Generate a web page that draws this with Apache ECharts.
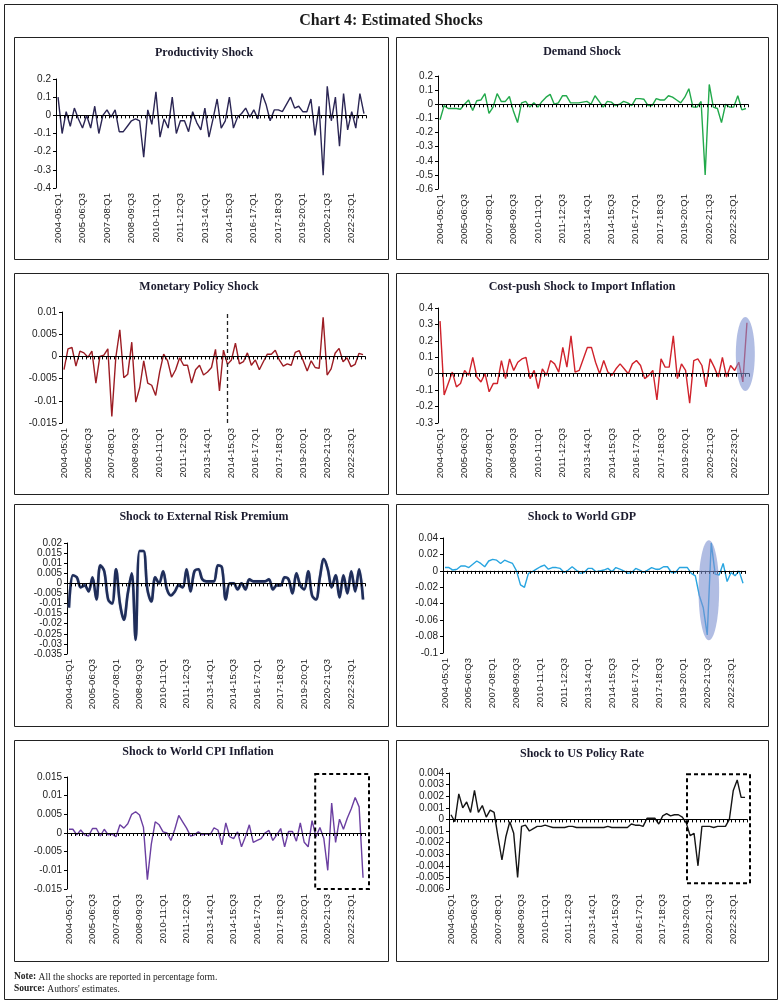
<!DOCTYPE html>
<html><head><meta charset="utf-8">
<script src="https://cdn.jsdelivr.net/npm/echarts/dist/echarts.min.js"></script>
<style>html,body{margin:0;padding:0;background:#fff}#c{width:782px;height:1005px}</style>
</head><body><div id="c"></div>
<script>
// ---- categories: 2004-05:Q1 ... 2022-23:Q4 ----
const fiscalYears = ['2004-05','2005-06','2006-07','2007-08','2008-09','2009-10','2010-11','2011-12','2012-13','2013-14','2014-15','2015-16','2016-17','2017-18','2018-19','2019-20','2020-21','2021-22','2022-23'];
const quarters = ['Q1','Q2','Q3','Q4'];
const categories = [];
fiscalYears.forEach(y => quarters.forEach(q => categories.push(y + ':' + q)));

const panelTitles = ['Productivity Shock','Demand Shock','Monetary Policy Shock','Cost-push Shock to Import Inflation','Shock to External Risk Premium','Shock to World GDP','Shock to World CPI Inflation','Shock to US Policy Rate'];

const productivity = [0.10,-0.10,0.02,-0.06,0.04,-0.02,-0.07,0.00,-0.07,0.05,
 -0.10,0.00,0.03,-0.01,0.03,-0.09,-0.09,-0.06,-0.03,-0.02,
 -0.03,-0.23,0.03,-0.05,0.13,-0.12,-0.02,-0.07,0.10,-0.10,
 -0.03,-0.03,-0.09,0.02,-0.04,-0.08,0.04,-0.12,-0.02,0.09,
 -0.07,-0.03,0.10,-0.07,-0.01,0.01,0.04,-0.01,0.03,-0.02,
 0.12,0.06,-0.03,0.03,0.03,0.02,0.06,0.10,0.04,0.05,
 0.02,0.02,0.09,-0.11,0.05,-0.33,0.16,-0.03,0.10,-0.17,
 0.12,-0.08,0.02,-0.07,0.12,0.01];

const demand = [-0.11,-0.01,-0.03,-0.03,-0.03,-0.035,0.00,0.03,-0.045,0.025,
 0.03,0.075,-0.065,-0.02,0.075,0.02,0.02,0.055,-0.05,-0.13,
 0.01,0.02,-0.02,0.01,-0.02,0.02,0.05,0.07,0.00,0.01,
 0.06,0.06,0.01,0.01,0.01,0.015,0.02,0.00,0.06,0.02,
 -0.02,0.02,0.015,-0.01,0.00,0.02,0.01,-0.01,0.04,0.04,
 0.035,-0.01,-0.01,0.04,0.03,0.03,0.06,0.05,0.03,0.01,
 0.05,0.11,-0.02,-0.02,0.02,-0.50,0.14,-0.02,-0.03,-0.13,
 0.00,-0.02,-0.02,0.06,-0.04,-0.03];

const monetary = [-0.003,0.0017,0.002,-0.0022,0.0012,0.0008,-0.0002,0.0012,-0.006,0.0,
 0.0003,0.0017,-0.0135,-0.0002,0.006,-0.0048,-0.004,0.0032,-0.0103,-0.007,
 -0.001,-0.006,-0.0065,-0.0088,-0.0035,0.0005,-0.001,-0.0047,-0.003,-0.0003,
 -0.002,-0.002,-0.006,-0.003,-0.002,-0.0042,-0.0035,-0.0025,0.0016,-0.0078,
 0.0014,-0.0018,-0.0008,0.003,-0.0017,-0.0012,0.0008,-0.002,-0.0008,-0.003,
 -0.0012,0.0005,0.0005,0.0014,-0.0008,-0.0022,-0.0017,-0.002,0.0009,0.0013,
 -0.001,-0.0033,-0.001,-0.0025,-0.0027,0.0088,-0.0042,-0.0028,0.0007,0.0018,
 -0.0012,-0.0003,-0.0023,-0.0018,0.0007,0.0004];

const costPush = [0.32,-0.13,-0.06,0.01,-0.08,-0.06,0.02,-0.01,0.10,-0.02,
 -0.05,0.00,-0.11,-0.06,-0.06,0.08,-0.03,0.09,0.02,0.07,
 0.09,0.10,-0.03,0.02,-0.09,0.03,-0.01,0.08,0.06,0.01,
 0.16,0.04,0.23,0.01,0.02,0.09,0.16,0.16,0.07,0.00,
 0.08,0.01,-0.01,0.03,0.06,0.03,0.00,0.06,0.08,0.05,
 -0.03,-0.01,0.02,-0.16,0.09,0.04,0.04,0.23,-0.03,0.06,
 0.02,-0.18,0.08,0.09,0.05,-0.08,0.09,0.04,-0.02,0.10,
 -0.02,0.05,0.02,0.07,-0.05,0.31];

const riskPremium = [-0.012,0.004,0.003,-0.002,-0.001,-0.004,0.003,-0.008,0.009,0.006,
 -0.008,-0.010,0.007,-0.010,-0.018,-0.005,0.005,-0.028,0.016,0.016,
 -0.003,-0.009,0.003,0.0,0.006,-0.003,-0.006,-0.004,-0.001,-0.002,
 0.007,-0.004,0.006,0.007,0.002,0.001,0.001,0.001,0.009,0.008,
 -0.008,0.0,0.0,-0.003,0.0,-0.003,0.002,0.001,0.001,0.001,
 0.001,0.002,-0.003,-0.001,-0.001,0.003,0.002,-0.005,0.005,-0.001,
 -0.003,0.006,-0.006,-0.008,0.003,0.012,0.007,-0.002,0.004,-0.007,
 0.004,-0.005,0.006,-0.004,0.007,-0.008];

const worldGDP = [0.004,0.004,0.001,0.002,0.006,0.006,0.004,0.008,0.012,0.009,
 0.005,0.012,0.014,0.013,0.009,0.013,0.011,0.009,0.000,-0.017,
 -0.020,-0.003,-0.001,0.002,0.005,0.007,0.002,0.004,0.004,0.003,
 -0.002,0.001,0.005,0.001,-0.003,-0.002,0.003,0.003,-0.001,0.000,
 0.001,0.003,-0.001,0.004,0.002,0.000,-0.003,-0.002,0.003,0.001,
 -0.002,0.001,0.004,0.002,0.002,0.005,0.005,-0.002,-0.002,0.004,
 0.004,0.004,-0.003,-0.006,-0.030,-0.045,-0.078,0.034,-0.004,-0.005,
 0.009,-0.013,-0.002,-0.006,0.000,-0.015];

const worldCPI = [0.001,0.001,-0.0005,0.0008,-0.0005,-0.0008,0.0012,0.0012,-0.0008,0.001,
 -0.0005,-0.0003,-0.001,0.0022,0.0013,0.0025,0.005,0.0057,0.0048,0.0015,
 -0.0125,-0.003,0.003,0.0022,0.0003,0.0,-0.002,0.001,0.0047,0.003,
 0.0013,-0.0008,-0.0005,0.0003,-0.0005,-0.0002,-0.0005,0.0014,0.0008,-0.0032,
 0.0027,-0.001,-0.0015,0.0003,-0.0037,-0.001,0.0022,-0.0025,-0.002,-0.0015,
 0.0,0.0007,-0.002,-0.0005,0.0012,-0.0037,0.0004,0.0004,-0.0022,0.0027,
 -0.0025,-0.0037,0.0033,-0.001,0.0015,-0.0015,-0.01,0.008,-0.0025,0.0037,
 0.001,0.004,0.0065,0.0095,0.007,-0.012];

const usPolicy = [0.0004,-0.0002,0.0022,0.001,0.0015,0.0006,0.0025,0.0006,0.0012,0.0002,
 0.0008,0.0006,-0.0015,-0.0035,-0.0015,-0.0002,-0.0012,-0.005,-0.0006,-0.0005,
 -0.001,-0.0008,-0.0006,-0.0006,-0.0005,-0.0006,-0.0007,-0.0007,-0.0007,-0.0007,
 -0.0006,-0.0006,-0.0007,-0.0007,-0.0007,-0.0007,-0.0007,-0.0007,-0.0007,-0.0007,
 -0.0006,-0.0007,-0.0007,-0.0007,-0.0007,-0.0007,-0.0004,-0.0005,-0.0005,-0.0006,
 0.0001,0.0001,0.0001,-0.0004,0.0003,0.0005,0.0003,0.0004,0.0004,0.0002,
 -0.0003,-0.0014,-0.0012,-0.004,-0.0006,-0.0006,-0.0006,-0.0007,-0.0006,-0.0006,
 -0.0006,0.0000,0.0025,0.0034,0.0019,0.0019];

// y-axis ranges [min, max, interval]
const yRanges = [[-0.4,0.2,0.1],[-0.6,0.2,0.1],[-0.015,0.01,0.005],[-0.3,0.4,0.1],[-0.035,0.02,0.005],[-0.1,0.04,0.02],[-0.015,0.015,0.005],[-0.006,0.004,0.001]];

// ---- layout / style ----
const seriesData = [productivity, demand, monetary, costPush, riskPremium, worldGDP, worldCPI, usPolicy];
const colors = ['#2b2654','#22a94b','#9c1c23','#d0222b','#1f2d59','#28a5e0','#6b3fa1','#151515'];
const widths = [1.4,1.4,1.4,1.4,2.6,1.4,1.4,1.4];
const grids = [[56,79,310,109],[438,76,310,113],[62,312,303,111],[438,308,311,115],[67,543,298,111],[443,538,302,115],[67,777,298,112],[449,773,298,116]];
const boxes = [[14,37,374,222],[396,37,372,222],[14,273,374,221],[396,273,372,221],[14,504,374,222],[396,504,372,222],[14,740,374,221],[396,740,372,221]];
const titlePos = [[204,53],[582,52],[199,287],[582,287],[204,517],[582,517],[198,752],[582,754]];

const sans = '"Liberation Sans", Arial, sans-serif';
const serif = '"Liberation Serif", "Times New Roman", serif';
const fmt = v => String(Math.round(v * 1e6) / 1e6);

const option = {animation:false, backgroundColor:'#fff', grid:[], xAxis:[], yAxis:[], series:[]};
grids.forEach((g, k) => {
  option.grid.push({left:g[0], top:g[1], width:g[2], height:g[3], containLabel:false});
  option.xAxis.push({type:'category', gridIndex:k, data:categories, position:'bottom', boundaryGap:true,
    axisLine:{show:true, onZero:true, lineStyle:{color:'#000', width:1.2}},
    axisTick:{show:true, interval:0, length:3, lineStyle:{color:'#000', width:1}},
    axisLabel:{show:false}, splitLine:{show:false}, z:5});
  option.xAxis.push({type:'category', gridIndex:k, data:categories, position:'bottom', boundaryGap:true,
    axisLine:{show:false, onZero:false}, axisTick:{show:false},
    axisLabel:{show:true, interval:5, rotate:90, fontSize:9.5, color:'#222', margin:5, fontFamily:sans},
    splitLine:{show:false}});
  const r = yRanges[k];
  option.yAxis.push({type:'value', gridIndex:k, min:r[0], max:r[1], interval:r[2],
    axisLine:{show:true, lineStyle:{color:'#000', width:1}},
    axisTick:{show:true, length:3, lineStyle:{color:'#000'}},
    axisLabel:{fontSize:10, color:'#222', margin:5, fontFamily:sans, formatter:fmt},
    splitLine:{show:false}});
  const s = {type:'line', xAxisIndex:2*k, yAxisIndex:k, data:seriesData[k], symbol:'none',
    lineStyle:{color:colors[k], width:widths[k]}, z:3};
  if (k === 4) { s.smooth = 0.35; s.lineStyle.shadowColor = 'rgba(140,155,190,0.8)'; s.lineStyle.shadowBlur = 1; }
  if (k === 2) {
    s.markLine = {silent:true, symbol:['none','none'], label:{show:false},
      lineStyle:{color:'#222', type:[4,3], width:1.3}, data:[{xAxis:41}]};
  }
  option.series.push(s);
});

const chart = echarts.init(document.getElementById('c'));
chart.setOption(option);

const px = (g, i, v) => chart.convertToPixel({xAxisIndex:2*g, yAxisIndex:g}, [i, v]);
const pxf = (g, fi, v) => { const i0 = Math.floor(fi), t = fi - i0; const a = px(g, i0, v), b = px(g, i0 + 1, v); return [a[0] + (b[0] - a[0]) * t, a[1]]; };

const graphics = [];
graphics.push({type:'rect', shape:{x:4.5, y:4.5, width:773, height:995}, style:{fill:'none', stroke:'#222', lineWidth:1}, z:0});
boxes.forEach(b => graphics.push({type:'rect', shape:{x:b[0]+0.5, y:b[1]+0.5, width:b[2], height:b[3]}, style:{fill:'none', stroke:'#222', lineWidth:1}, z:0}));
graphics.push({type:'text', style:{x:391, y:21, text:'Chart 4: Estimated Shocks', font:'bold 16px ' + serif, fill:'#1a1a1a', textAlign:'center', textVerticalAlign:'middle', align:'center', verticalAlign:'middle'}});
panelTitles.forEach((t, k) => graphics.push({type:'text', style:{x:titlePos[k][0], y:titlePos[k][1], text:t, font:'bold 12px ' + serif, fill:'#1b1b2e', textAlign:'center', textVerticalAlign:'middle', align:'center', verticalAlign:'middle'}}));
graphics.push({type:'text', style:{x:14, y:977, text:'{b|Note:} All the shocks are reported in percentage form.', font:'9.5px ' + serif, fill:'#222', textVerticalAlign:'middle', verticalAlign:'middle', rich:{b:{fontWeight:'bold', fontSize:9.5, fontFamily:serif}}}});
graphics.push({type:'text', style:{x:14, y:989, text:'{b|Source:} Authors\' estimates.', font:'9.5px ' + serif, fill:'#222', textVerticalAlign:'middle', verticalAlign:'middle', rich:{b:{fontWeight:'bold', fontSize:9.5, fontFamily:serif}}}});

// highlight ellipses
const e1 = pxf(3, 74.6, 0.12);
graphics.push({type:'ellipse', shape:{cx:e1[0], cy:e1[1], rx:9.5, ry:37}, style:{fill:'rgba(125,145,208,0.6)'}, z:10});
const e2 = pxf(5, 66.4, -0.0237);
graphics.push({type:'ellipse', shape:{cx:e2[0], cy:e2[1], rx:10.3, ry:50}, style:{fill:'rgba(125,145,208,0.6)'}, z:10});

// dashed boxes
const band6 = px(6, 1, 0)[0] - px(6, 0, 0)[0];
const l6 = pxf(6, 62.8, 0)[0], r6 = px(6, 75, 0)[0] + band6 / 2 + 4;
const t6 = px(6, 0, 0.015)[1] - 3, b6 = px(6, 0, -0.015)[1];
graphics.push({type:'rect', shape:{x:l6, y:t6, width:r6 - l6, height:b6 - t6}, style:{fill:'none', stroke:'#000', lineWidth:2, lineDash:[4,3]}, z:10});
const band7 = px(7, 1, 0)[0] - px(7, 0, 0)[0];
const l7 = pxf(7, 60.2, 0)[0], r7 = px(7, 75, 0)[0] + band7 / 2 + 3;
const t7 = px(7, 0, 0.0039)[1], b7 = px(7, 0, -0.0055)[1];
graphics.push({type:'rect', shape:{x:l7, y:t7, width:r7 - l7, height:b7 - t7}, style:{fill:'none', stroke:'#000', lineWidth:2, lineDash:[4,3]}, z:10});

chart.setOption({graphic:{elements:graphics}});
</script></body></html>
